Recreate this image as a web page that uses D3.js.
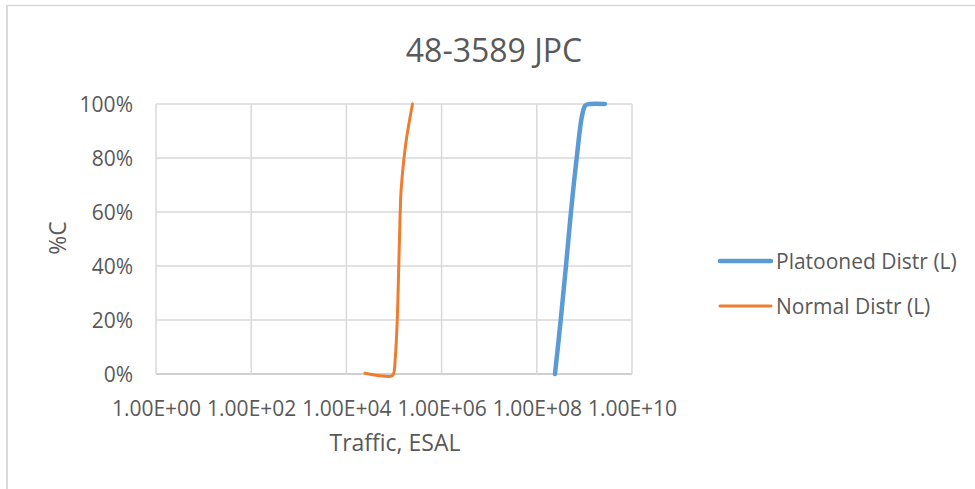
<!DOCTYPE html>
<html>
<head>
<meta charset="utf-8">
<script src="https://cdn.jsdelivr.net/npm/d3@7"></script>
<style>
  html, body { margin: 0; padding: 0; background: #fff; }
  svg { display: block; }
  text { font-family: "Open Sans", "Noto Sans", sans-serif; fill: #595959; }
</style>
</head>
<body>
<svg id="chart" width="975" height="489"></svg>
<script>
// ---- data ----
const chartTitle = "48-3589 JPC";
const xAxisTitle = "Traffic, ESAL";
const yAxisTitle = "%C";
const xTickValues = [1e0, 1e2, 1e4, 1e6, 1e8, 1e10];
const xTickLabels = ["1.00E+00", "1.00E+02", "1.00E+04", "1.00E+06", "1.00E+08", "1.00E+10"];
const yTickValues = [0, 20, 40, 60, 80, 100];
const seriesNames = ["Platooned Distr (L)", "Normal Distr (L)"];
const seriesColors = ["#5B9BD5", "#ED7D31"];

// Platooned distribution: ESAL vs %C
const platoonedESAL = [2.41e8, 3.18e8, 4.10e8, 5.22e8, 6.89e8, 9.0e8, 1.05e9, 1.3e9, 2.7e9];
const platoonedPct  = [0, 20, 40, 60, 80, 96, 99.5, 100, 100];

// Normal distribution: ESAL vs %C
const normalESAL = [2.45e4, 8.9e4, 9.77e4, 1.07e5, 1.17e5, 1.26e5, 1.35e5, 1.41e5, 1.58e5, 1.86e5, 2.45e5];
const normalPct  = [0.3, -0.8, 0, 6.5, 20, 40, 60, 68, 78, 88, 100];

// ---- layout ----
const svg = d3.select("#chart");
const W = 975, H = 489;
const plot = { left: 156, right: 632, top: 104, bottom: 374 };

// chart area border (left and top visible)
svg.append("line").attr("x1", 7).attr("x2", 7).attr("y1", 5).attr("y2", H)
  .attr("stroke", "#d9d9d9").attr("stroke-width", 2);
svg.append("line").attr("x1", 7).attr("x2", W).attr("y1", 5.5).attr("y2", 5.5)
  .attr("stroke", "#d9d9d9").attr("stroke-width", 1.5);

const x = d3.scaleLog().domain([1e0, 1e10]).range([plot.left, plot.right]);
const y = d3.scaleLinear().domain([0, 100]).range([plot.bottom, plot.top]);

// gridlines
const grid = svg.append("g");
grid.selectAll("line.h").data(yTickValues).join("line")
  .attr("x1", plot.left).attr("x2", plot.right)
  .attr("y1", d => y(d)).attr("y2", d => y(d))
  .attr("stroke", d => d === 0 ? "#bfbfbf" : "#d9d9d9").attr("stroke-width", 1.5);
grid.selectAll("line.v").data(xTickValues).join("line")
  .attr("x1", d => x(d)).attr("x2", d => x(d))
  .attr("y1", plot.top).attr("y2", plot.bottom)
  .attr("stroke", "#d9d9d9").attr("stroke-width", 1.5);

// axes (labels only, via d3 axis generators)
const xAxis = d3.axisBottom(x).tickValues(xTickValues)
  .tickFormat((d, i) => xTickLabels[i]).tickSize(0).tickPadding(0);
const gx = svg.append("g").attr("transform", `translate(0,${plot.bottom})`).call(xAxis);
gx.select(".domain").remove();
gx.selectAll("text").attr("dy", null).attr("y", 42)
  .style("font-size", "21px").attr("fill", "#595959");

const yAxis = d3.axisLeft(y).tickValues(yTickValues)
  .tickFormat(d => d + "%").tickSize(0).tickPadding(0);
const gy = svg.append("g").attr("transform", `translate(${plot.left - 23},0)`).call(yAxis);
gy.select(".domain").remove();
gy.selectAll("text").attr("dy", "0.36em").style("font-size", "21px").attr("fill", "#595959");

// series lines
const line = d3.line().x(d => x(d[0])).y(d => y(d[1])).curve(d3.curveCatmullRom.alpha(0.5));
const platooned = platoonedESAL.map((v, i) => [v, platoonedPct[i]]);
const normal = normalESAL.map((v, i) => [v, normalPct[i]]);

svg.append("path").datum(normal).attr("d", line)
  .attr("fill", "none").attr("stroke", seriesColors[1]).attr("stroke-width", 3)
  .attr("stroke-linecap", "round").attr("stroke-linejoin", "round");
svg.append("path").datum(platooned).attr("d", line)
  .attr("fill", "none").attr("stroke", seriesColors[0]).attr("stroke-width", 4.5)
  .attr("stroke-linecap", "round").attr("stroke-linejoin", "round");

// titles
svg.append("text").attr("x", 494).attr("y", 62).attr("text-anchor", "middle")
  .style("font-size", "32px").text(chartTitle);
svg.append("text").attr("x", 395).attr("y", 451).attr("text-anchor", "middle")
  .style("font-size", "23px").text(xAxisTitle);
svg.append("text").attr("transform", "translate(66,238) rotate(-90)")
  .attr("text-anchor", "middle").style("font-size", "23px").text(yAxisTitle);

// legend
const legendY = [261, 306];
const widths = [4.5, 3];
const lg = svg.append("g");
seriesNames.forEach((name, i) => {
  lg.append("line").attr("x1", 720).attr("x2", 771)
    .attr("y1", legendY[i]).attr("y2", legendY[i])
    .attr("stroke", seriesColors[i]).attr("stroke-width", widths[i]).attr("stroke-linecap", "round");
  lg.append("text").attr("x", 776).attr("y", legendY[i]).attr("dy", "0.36em")
    .style("font-size", "21px").text(name);
});
</script>
</body>
</html>
